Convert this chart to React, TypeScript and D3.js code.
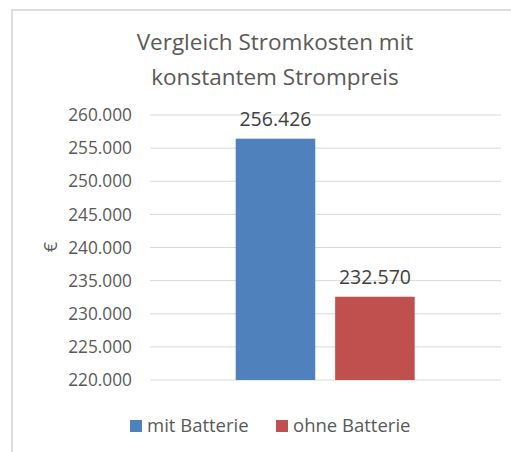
import React from "react";
import * as d3 from "d3";

const titleLines = ["Vergleich Stromkosten mit", "konstantem Strompreis"];
const series = ["mit Batterie", "ohne Batterie"];
const values = [256426, 232570];
const colors = ["#4F81BD", "#C0504D"];
const yTicks = [220000, 225000, 230000, 235000, 240000, 245000, 250000, 255000, 260000];
const yLabel = "€";

const W = 511;
const H = 452;
const FONT = "'Open Sans', 'Liberation Sans', sans-serif";

export default function App() {
  const plot = { left: 150, right: 501, top: 115, bottom: 380 };
  const y = d3.scaleLinear().domain([220000, 260000]).range([plot.bottom, plot.top]);
  const x = d3
    .scaleBand<string>()
    .domain(series)
    .range([235.7, 414.7])
    .paddingInner(0.2);
  const fmt = (v: number) => d3.format(",")(v).replace(/,/g, ".");
  const tickFmt = (v: number) => d3.format(",.0f")(v).replace(/,/g, ".");

  return (
    <svg
      width={W}
      height={H}
      style={{ position: "absolute", left: 0, top: 0, display: "block", background: "#fff" }}
      fontFamily={FONT}
    >
      <rect x={12} y={10} width={520} height={480} fill="#fff" stroke="#D9D9D9" strokeWidth={1.75} />
      {titleLines.map((t, i) => (
        <text key={i} x={275} y={50 + i * 35} textAnchor="middle" fontSize={22.5} fill="#595959">
          {t}
        </text>
      ))}
      {yTicks.map((t) => (
        <g key={t}>
          <line x1={plot.left} x2={plot.right} y1={y(t)} y2={y(t)} stroke="#D9D9D9" strokeWidth={1} />
          <text x={132} y={y(t)} dy="0.36em" textAnchor="end" fontSize={17.3} fill="#595959">
            {tickFmt(t)}
          </text>
        </g>
      ))}
      <text
        transform={`translate(57,247) rotate(-90)`}
        textAnchor="middle"
        fontSize={18}
        fill="#595959"
      >
        {yLabel}
      </text>
      {series.map((s, i) => (
        <g key={s}>
          <rect
            x={x(s)}
            y={y(values[i])}
            width={x.bandwidth()}
            height={plot.bottom - y(values[i])}
            fill={colors[i]}
          />
          <text
            x={(x(s) as number) + x.bandwidth() / 2}
            y={y(values[i]) - 13}
            textAnchor="middle"
            fontSize={19.5}
            fill="#404040"
          >
            {fmt(values[i])}
          </text>
        </g>
      ))}
      {series.map((s, i) => {
        const lx = [130, 276][i];
        return (
          <g key={s}>
            <rect x={lx} y={420} width={12} height={12} fill={colors[i]} />
            <text x={lx + 17} y={431.5} fontSize={18.5} fill="#595959">
              {s}
            </text>
          </g>
        );
      })}
    </svg>
  );
}
